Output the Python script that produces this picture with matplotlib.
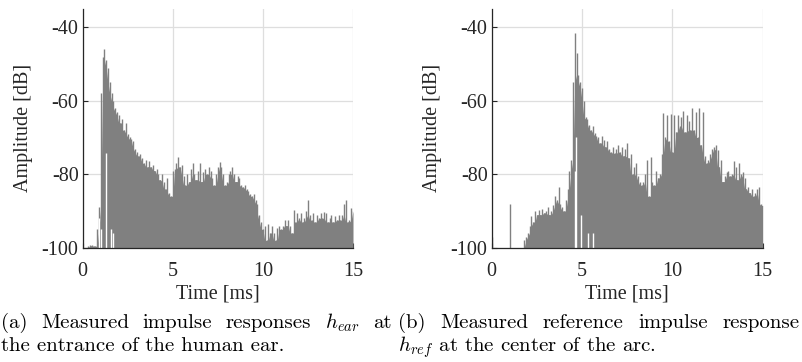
import numpy as np
import matplotlib
matplotlib.use("Agg")
import matplotlib.pyplot as plt

# Peak level of the impulse response in dB, one value every 0.1 ms from 0 to 15 ms.
ear_peaks_db = [
    -100, -100, -100, -99.5, -99.3, -99.2, -99.4, -99.6, -95, -89,
    -58, -48, -46, -49, -51, -55, -58, -60, -62, -63,
    -64, -66, -65, -68, -66, -69, -70, -70.5, -71, -73,
    -74, -75, -74.5, -75.5, -77, -76, -78, -76.5, -78, -77.5,
    -79, -78.5, -80, -81.5, -80, -82, -84, -81, -85, -86,
    -79, -78.5, -77, -75.2, -78, -77.5, -80.5, -83, -80, -82,
    -78.5, -77, -80, -81.5, -79, -77, -82, -79.5, -78.5, -80,
    -78, -79, -81, -83, -80, -78, -76.6, -78, -80, -83,
    -82, -80, -79, -78, -80, -82, -80.5, -81, -83, -83.5,
    -83, -84, -84.5, -85.5, -86, -85.5, -87, -88, -91, -93,
    -95, -94, -98, -93.5, -96, -94, -96, -98, -94.5, -94,
    -95, -94, -92.5, -94, -92.5, -94, -96, -89.7, -93, -90.5,
    -92, -90.5, -93, -92, -90, -87, -91, -92.5, -90.5, -93,
    -91, -92, -90.5, -92, -90.2, -90.5, -93, -92, -91, -93,
    -91.5, -92.5, -91, -92.5, -91, -88, -87, -93, -92.5, -89.3,
    -90,
]

ref_peaks_db = [
    -97, -100, -100, -100, -100, -100, -100, -100, -100, -100,
    -88, -100, -100, -100, -100, -100, -100, -100, -98, -97,
    -96, -94, -91.5, -93, -90, -91, -89.7, -91, -89.5, -90.5,
    -90, -89, -91, -90, -88.5, -86, -87, -83.5, -88, -89,
    -90, -87, -84, -79, -76, -55, -41.5, -47, -53, -55,
    -56.5, -60, -64.5, -65, -66.5, -68, -67, -68.8, -69.5, -70,
    -71.5, -69.5, -70.7, -72.5, -71, -73, -74, -72.5, -74.3, -73,
    -72, -74, -72.5, -75, -73, -71.5, -75.5, -74.5, -80, -78,
    -77, -80.5, -82, -83, -82, -80, -76, -86, -75.2, -82,
    -83, -79, -81, -80, -74.5, -63.4, -70, -64, -71, -63.5,
    -74, -64, -68.5, -63.8, -67, -64.5, -62.8, -68.5, -64, -65.5,
    -68, -62.1, -68, -63, -70, -62.1, -72, -63, -75, -77,
    -76, -74.5, -73, -72.5, -72, -73.5, -78, -76, -82, -80.5,
    -79.5, -79, -80.5, -80, -76.5, -78, -81.5, -77, -80, -79.5,
    -81, -84, -83.5, -85, -84, -86, -85, -84, -83.4, -88,
    -88.5,
]

# Short stretches where the response never drops to the floor (time in ms, lowest level in dB).
ear_gap_ms = [0.93, 1.02, 1.30, 1.55, 1.70]
ear_gap_db = [-92, -95, -74.3, -95, -96]
ref_gap_ms = [4.62, 4.68, 4.92, 5.35, 5.62]
ref_gap_db = [-79, -70, -91, -96, -96]

caption_a = ["(a) Measured impulse responses $h_{ear}$ at",
             "the entrance of the human ear."]
caption_b = ["(b) Measured reference impulse response",
             "$h_{ref}$ at the center of the arc."]

GREY = "#808080"
AXIS = "#262626"
AX_FONT = dict(family="Liberation Serif", fontsize=14.5, color=AXIS)
CAP_FONT = dict(family="cmr10", fontsize=15, color="black", va="baseline")

plt.rcParams["axes.unicode_minus"] = False
plt.rcParams["mathtext.fontset"] = "cm"


def draw_response(ax, peaks, gap_ms, gap_db):
    peaks = np.asarray(peaks, dtype=float)
    t = np.linspace(0.0, 15.0, len(peaks))
    # solid body under the spikes: lowest of each sample and its neighbours
    padded = np.pad(peaks, 1, mode="edge")
    body = np.minimum(np.minimum(padded[:-2], padded[1:-1]), padded[2:])
    ax.fill_between(t, -100, body, color=GREY, linewidth=0, zorder=2)
    ax.vlines(t, -100, peaks, color=GREY, linewidth=1.0, zorder=2)
    ax.vlines(gap_ms, -100, gap_db, color="white", linewidth=1.0, zorder=3)

    ax.set_xlim(0, 15)
    ax.set_ylim(-100, -35)
    ax.set_xticks([0, 5, 10, 15])
    ax.set_yticks([-100, -80, -60, -40])
    ax.grid(True, color="#dedede", linewidth=0.9, zorder=0)
    ax.set_axisbelow(True)
    for side in ("top", "right"):
        ax.spines[side].set_visible(False)
    for side in ("left", "bottom"):
        ax.spines[side].set_color(AXIS)
        ax.spines[side].set_linewidth(0.9)
        ax.spines[side].set_zorder(4)
    ax.tick_params(direction="in", length=3.5, width=0.8, color=AXIS,
                   labelcolor=AXIS, labelsize=AX_FONT["fontsize"])
    ax.tick_params(axis="x", pad=10)
    ax.tick_params(axis="y", pad=3)
    for lab in ax.get_xticklabels() + ax.get_yticklabels():
        lab.set_family(AX_FONT["family"])
    ax.set_xlabel("Time [ms]", labelpad=3, **AX_FONT)
    ax.set_ylabel("Amplitude [dB]", labelpad=6, **AX_FONT)


def justified_line(fig, x0, x1, y, text):
    """Spread the words of one caption line over [x0, x1] (figure fraction)."""
    words = text.split(" ")
    items = [fig.text(x0, y, w, ha="left", **CAP_FONT) for w in words]
    renderer = fig.canvas.get_renderer()
    widths = [it.get_window_extent(renderer).width for it in items]
    fig_w = fig.bbox.width
    gap = ((x1 - x0) * fig_w - sum(widths)) / (len(words) - 1)
    x = x0 * fig_w
    for it, w in zip(items, widths):
        it.set_x(x / fig_w)
        x += w + gap


fig = plt.figure(figsize=(8.03, 3.62), dpi=100)
ax_a = fig.add_axes([0.103, 0.3157, 0.3366, 0.6597])
ax_b = fig.add_axes([0.6123, 0.3157, 0.3375, 0.6597])

draw_response(ax_a, ear_peaks_db, ear_gap_ms, ear_gap_db)
draw_response(ax_b, ref_peaks_db, ref_gap_ms, ref_gap_db)

justified_line(fig, 0.001, 0.488, 0.093, caption_a[0])
fig.text(0.001, 0.030, caption_a[1], ha="left", **CAP_FONT)
justified_line(fig, 0.496, 0.996, 0.093, caption_b[0])
fig.text(0.496, 0.030, caption_b[1], ha="left", **CAP_FONT)

fig.savefig("out.png", dpi=100)
